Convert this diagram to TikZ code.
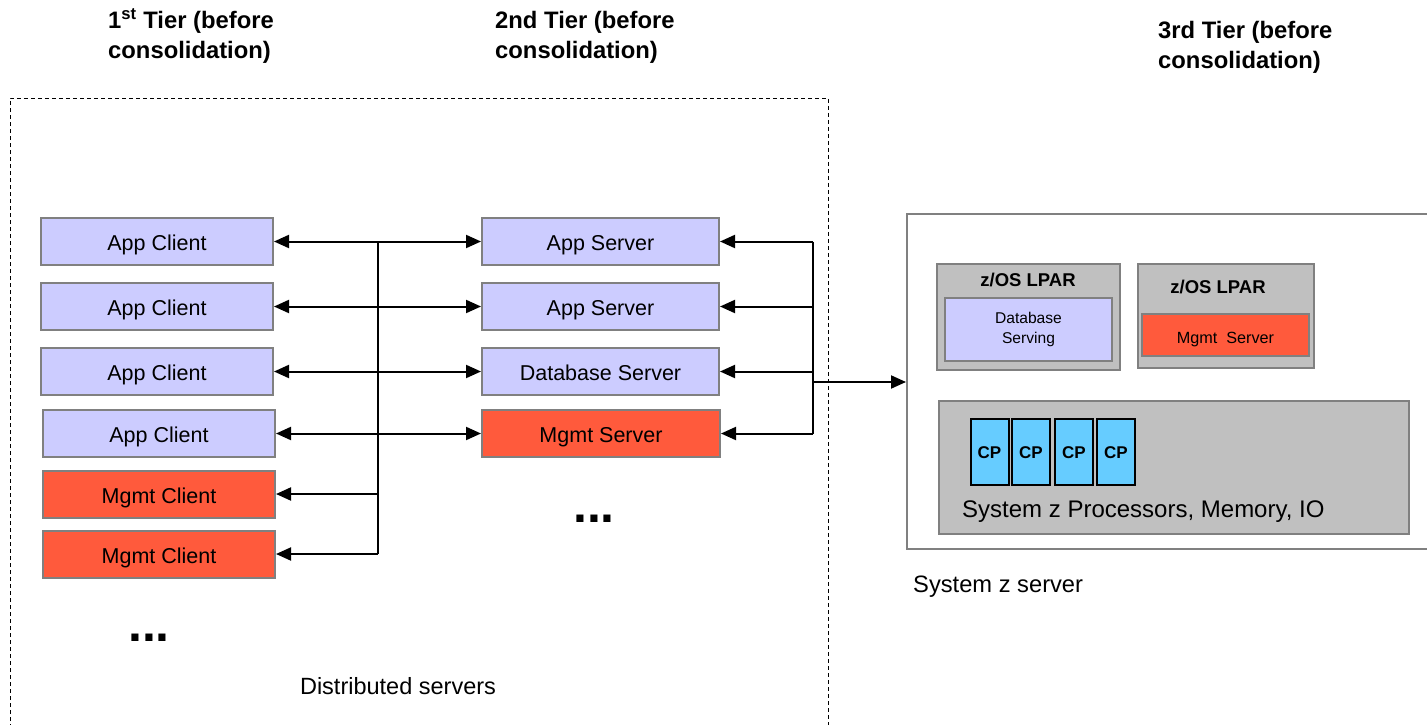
\documentclass[tikz,border=0pt]{standalone}
\usepackage{fontspec}
\setmainfont{Liberation Sans}
\usetikzlibrary{arrows.meta}
\definecolor{lav}{RGB}{204,204,255}
\definecolor{redbox}{RGB}{255,90,60}
\definecolor{bordgray}{RGB}{128,128,128}
\definecolor{lpargray}{RGB}{192,192,192}
\definecolor{cpblue}{RGB}{102,204,255}
\tikzset{
  tierbox/.style={draw=bordgray, line width=2pt, minimum width=232pt, minimum height=47pt, inner sep=0pt, text height=18.4pt, text depth=0pt, font=\fontsize{21.5}{24}\selectfont},
  lavbox/.style={tierbox, fill=lav},
  redbx/.style={tierbox, fill=redbox},
  lparbox/.style={draw=bordgray, line width=2pt, fill=lpargray, inner sep=0pt},
  cpbox/.style={draw=black, line width=2pt, fill=cpblue, minimum width=38pt, minimum height=66pt, inner sep=0pt, text height=12pt, text depth=0pt, font=\bfseries\fontsize{17}{20}\selectfont},
  conn/.style={line width=2pt},
  arr/.style={line width=2pt, -{Triangle[length=15pt,width=13pt]}},
  darr/.style={line width=2pt, {Triangle[length=15pt,width=13pt]}-{Triangle[length=15pt,width=13pt]}},
  title/.style={align=left, anchor=north west, inner sep=0pt, font=\bfseries\fontsize{23.8}{30}\selectfont},
  plain/.style={inner sep=0pt, font=\fontsize{23.5}{26}\selectfont},
}
\begin{document}
\begin{tikzpicture}[x=1pt,y=-1pt]
\useasboundingbox (0,0) rectangle (1427,725);
\clip (0,0) rectangle (1427,725);
% titles
\node[title] (t1) at (108,11) {1\smash{\textsuperscript{st}} Tier (before\\consolidation)};
\node[title] (t2) at (495,11) {2nd Tier (before\\consolidation)};
\node[title] (t3) at (1158,21) {3rd Tier (before\\consolidation)};
% dashed box
\draw[line width=1pt, dash pattern=on 4pt off 3pt] (10,735) -- (10,98) -- (828,98) -- (828,735);
% clients
\node[lavbox] (c1) at (157,241.5) {App Client};
\node[lavbox] (c2) at (157,306.5) {App Client};
\node[lavbox] (c3) at (157,371.5) {App Client};
\node[lavbox] (c4) at (159,433.5) {App Client};
\node[redbx] (m1) at (159,494) {Mgmt Client};
\node[redbx] (m2) at (159,554) {Mgmt Client};
% servers
\node[lavbox, minimum width=237pt] (s1) at (600.5,241.5) {App Server};
\node[lavbox, minimum width=237pt] (s2) at (600.5,306.5) {App Server};
\node[lavbox, minimum width=237pt] (s3) at (600.5,371.5) {Database Server};
\node[redbx, minimum width=238pt] (s4) at (601,433.5) {Mgmt Server};
% dots and labels
\node[anchor=base, inner sep=0pt, font=\bfseries\fontsize{50}{52}\selectfont] (d1) at (149,641) {...};
\node[anchor=base, inner sep=0pt, font=\bfseries\fontsize{50}{52}\selectfont] (d2) at (594,522) {...};
\node[plain] (ds) at (398,686) {Distributed servers};
% buses
\coordinate (busL) at (378,0);
\coordinate (busR) at (813,0);
\draw[darr] (c1.east) -- (s1.west);
\draw[darr] (c2.east) -- (s2.west);
\draw[darr] (c3.east) -- (s3.west);
\draw[darr] (c4.east) -- (s4.west);
\draw[arr] (m1.east -| busL) -- (m1.east);
\draw[arr] (m2.east -| busL) -- (m2.east);
\draw[conn] (c1.east -| busL) -- (m2.east -| busL);
\draw[arr] (s1.east -| busR) -- (s1.east);
\draw[arr] (s2.east -| busR) -- (s2.east);
\draw[arr] (s3.east -| busR) -- (s3.east);
\draw[arr] (s4.east -| busR) -- (s4.east);
\draw[conn] (s1.east -| busR) -- (s4.east -| busR);
% system z
\node[draw=bordgray, line width=2pt, fill=white, minimum width=533pt, minimum height=335pt, inner sep=0pt] (sysz) at (1173.5,381.5) {};
\coordinate (rb) at (813,382);
\draw[arr] (rb) -- (rb -| sysz.west);
\node[lparbox, minimum width=183pt, minimum height=106pt] (l1) at (1028.5,317) {};
\node[inner sep=0pt, font=\bfseries\fontsize{18.5}{20}\selectfont] (l1t) at (1028,280) {z/OS LPAR};
\node[draw=bordgray, line width=2pt, fill=lav, minimum width=167pt, minimum height=63pt, align=center, inner sep=0pt, font=\fontsize{15.6}{20}\selectfont] (dbs) at (1028.5,329.5) {Database\\Serving};
\node[lparbox, minimum width=176pt, minimum height=104pt] (l2) at (1226,316) {};
\node[inner sep=0pt, font=\bfseries\fontsize{18.5}{20}\selectfont] (l2t) at (1218,287) {z/OS LPAR};
\node[draw=bordgray, line width=1.5pt, fill=redbox, minimum width=167pt, minimum height=42pt, inner sep=0pt, text height=16pt, text depth=0pt, font=\fontsize{16.2}{18}\selectfont] (ms) at (1225.5,335) {Mgmt\ \ Server};
\node[lparbox, minimum width=470pt, minimum height=133pt] (proc) at (1174,467.5) {};
\node[cpbox] (cp1) at (989.5,452) {CP};
\node[cpbox] (cp2) at (1031,452) {CP};
\node[cpbox] (cp3) at (1074,452) {CP};
\node[cpbox] (cp4) at (1116,452) {CP};
\node[anchor=west, inner sep=0pt, font=\fontsize{24}{26}\selectfont] (proct) at (962,512) {System z Processors, Memory, IO};
\node[anchor=west, inner sep=0pt, font=\fontsize{23.7}{26}\selectfont] (szs) at (913,587) {System z server};
\end{tikzpicture}
\end{document}
